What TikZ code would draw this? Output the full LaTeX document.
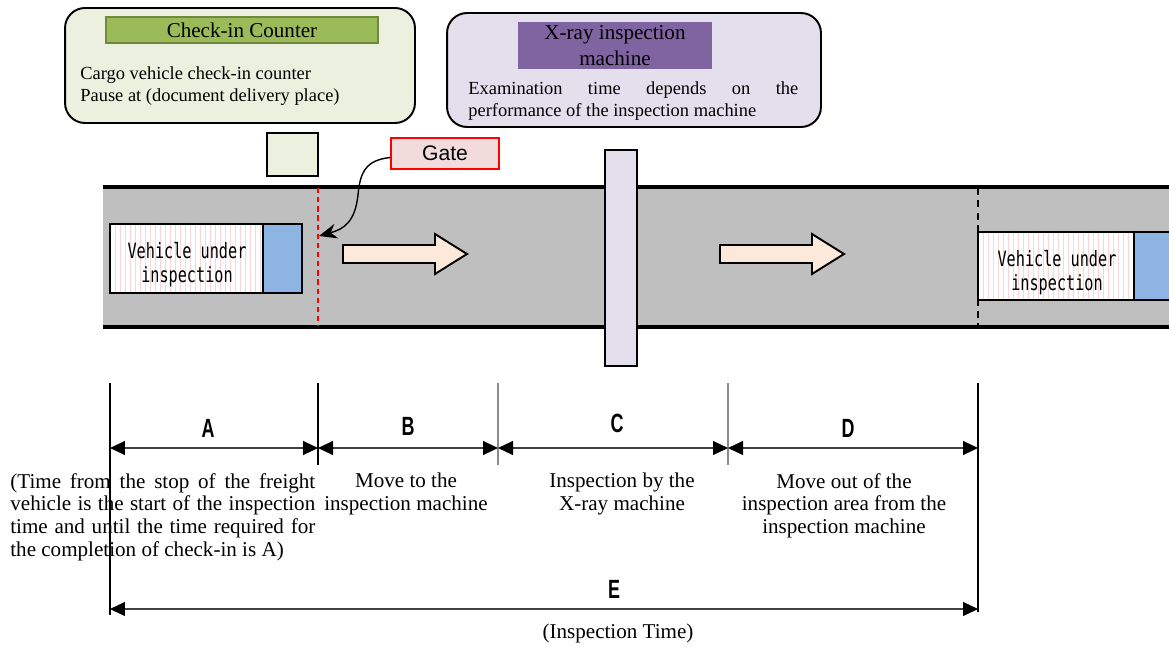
\documentclass[tikz,border=0pt]{standalone}
\usepackage{fontspec}
\setmainfont{Liberation Serif}
\newfontfamily\gatefont{Liberation Sans}
\newfontfamily\vehfont[FakeStretch=0.72]{DejaVu Sans Mono}
\newfontfamily\segfont[FakeStretch=0.68]{Liberation Sans}
\usetikzlibrary{arrows.meta}
\definecolor{ckfill}{HTML}{EBF1DE}
\definecolor{ckhead}{HTML}{9BBB59}
\definecolor{ckedge}{HTML}{71893F}
\definecolor{xrfill}{HTML}{E4DFEC}
\definecolor{xrhead}{HTML}{8064A2}
\definecolor{gatefill}{HTML}{F2DCDB}
\definecolor{roadgray}{HTML}{BFBFBF}
\definecolor{cabblue}{HTML}{8DB4E2}
\definecolor{movefill}{HTML}{FDE9D9}
\definecolor{stripepink}{HTML}{F7D6D6}
\definecolor{dimgray}{HTML}{404040}
\hyphenpenalty=10000
\tikzset{
  infobox/.style={draw=black, line width=1.1pt, rounded corners=0.4cm, inner sep=0pt},
  ckttl/.style={draw=ckedge, fill=ckhead, line width=0.8pt, minimum width=5.44cm, minimum height=0.52cm, inner sep=0pt, font=\fontsize{12}{14}\selectfont},
  xrttl/.style={fill=xrhead, minimum width=3.88cm, minimum height=0.94cm, inner sep=0pt, align=center, font=\fontsize{12}{15}\selectfont},
  boxtxt/.style={inner sep=0pt, anchor=north west, font=\fontsize{10.5}{13}\selectfont},
  booth/.style={draw=black, fill=ckfill, line width=0.8pt, minimum width=1.02cm, minimum height=0.86cm, inner sep=0pt},
  gatebox/.style={draw=red, fill=gatefill, line width=0.8pt, minimum width=2.16cm, minimum height=0.62cm, inner sep=0pt, font=\gatefont\fontsize{12}{14}\selectfont},
  gatearc/.style={-{Stealth[length=3.6mm,width=3mm]}, draw=black, line width=0.8pt},
  road/.style={fill=roadgray},
  roadedge/.style={draw=black, line width=1.8pt},
  reddash/.style={draw=red, line width=0.9pt, dash pattern=on 3pt off 2.2pt},
  blackdash/.style={draw=black, line width=0.8pt, dash pattern=on 4pt off 3pt},
  veh/.style={draw=black, line width=1.1pt, fill=white, inner sep=0pt,
    path picture={\foreach \k in {1,...,32}{\draw[stripepink, line width=0.35pt] ([xshift=\k*1mm]path picture bounding box.south west) -- ([xshift=\k*1mm]path picture bounding box.north west);}}},
  vehtxt/.style={inner sep=0pt, align=center, font=\vehfont\fontsize{12}{13.6}\selectfont},
  cab/.style={draw=black, line width=1.1pt, fill=cabblue, inner sep=0pt},
  machine/.style={draw=black, fill=xrfill, line width=0.8pt, minimum width=0.64cm, minimum height=4.32cm, inner sep=0pt},
  movearr/.style={draw=black, line width=1.1pt, fill=movefill},
  tick/.style={draw=black, line width=0.6pt},
  tickgray/.style={draw=black!45, line width=0.6pt},
  dimarr/.style={{Triangle[length=3mm,width=2.8mm,color=black]}-{Triangle[length=3mm,width=2.8mm,color=black]}, draw=dimgray, line width=0.6pt},
  seglbl/.style={inner sep=0pt, font=\segfont\bfseries\fontsize{15}{17}\selectfont},
  segtxt/.style={inner sep=0pt, anchor=north, align=center, font=\fontsize{12}{12.9}\selectfont},
}
\begin{document}
\begin{tikzpicture}[x=0.02cm,y=-0.02cm]
  \useasboundingbox (0,0) rectangle (1169,646);
  \clip (0,0) rectangle (1169,646);
  \node[infobox, fill=ckfill, minimum width=7cm, minimum height=2.3cm] (checkin) at (240,65.5) {};
  \node[ckttl] (checkinhdr) at (242,30) {Check-in Counter};
  \node[boxtxt, align=left] (checkinnote) at (80,66) {Cargo vehicle check-in counter\\Pause at (document delivery place)};
  \node[infobox, fill=xrfill, minimum width=7.48cm, minimum height=2.28cm] (xraybox) at (634,70) {};
  \node[xrttl] (xrayhdr) at (615,45.5) {X-ray inspection\\machine};
  \node[boxtxt, text width=6.6cm, align=justify] (xraynote) at (468,81) {Examination time depends on the\linebreak performance of the inspection machine};
  \fill[road] (103,187) rectangle (1169,327);
  \draw[roadedge] (103,187) -- (1169,187);
  \draw[roadedge] (103,327) -- (1169,327);
  \node[booth] (booth) at (292.5,154.5) {};
  \node[gatebox] (gate) at (445,153.5) {Gate};
  \draw[reddash] (318,188) -- (318,326);
  \draw[blackdash] (978,188) -- (978,326);
  \coordinate (gatetip) at (319,236);
  \draw[gatearc] ([yshift=-0.08cm]gate.west) .. controls (366,160) and (360,172) .. (358,195) .. controls (355,222) and (344,229) .. (gatetip);
  \node[veh, minimum width=3.06cm, minimum height=1.38cm] (veh1) at (186.5,258.5) {};
  \node[vehtxt] (veh1txt) at (187,265) {Vehicle under\\inspection};
  \node[cab, minimum width=0.78cm, minimum height=1.38cm] (cab1) at (282.5,258.5) {};
  \draw[movearr] (343,245) -- (435,245) -- (435,234) -- (467,254) -- (435,274) -- (435,263) -- (343,263) -- cycle;
  \node[machine] (xraymachine) at (621,258) {};
  \draw[movearr] (720,245) -- (812,245) -- (812,234) -- (844,254) -- (812,274) -- (812,263) -- (720,263) -- cycle;
  \node[veh, minimum width=3.12cm, minimum height=1.36cm] (veh2) at (1056,266) {};
  \node[vehtxt] (veh2txt) at (1057,273) {Vehicle under\\inspection};
  \node[cab, minimum width=0.92cm, minimum height=1.36cm] (cab2) at (1157,266) {};
  \draw[tick] (110,383) -- (110,615);
  \draw[tick] (318,383) -- (318,465);
  \draw[tickgray] (498,383) -- (498,465);
  \draw[tickgray] (728,383) -- (728,465);
  \draw[tick] (978,383) -- (978,612);
  \coordinate (tA) at (110,448);
  \coordinate (tB) at (318,448);
  \coordinate (tC) at (498,448);
  \coordinate (tD) at (728,448);
  \coordinate (tE) at (978,448);
  \coordinate (eL) at (110,609);
  \coordinate (eR) at (978,609);
  \draw[dimarr] (tA) -- (tB);
  \draw[dimarr] (tB) -- (tC);
  \draw[dimarr] (tC) -- (tD);
  \draw[dimarr] (tD) -- (tE);
  \draw[dimarr] (eL) -- (eR);
  \node[seglbl] (segA) at (208,428) {A};
  \node[seglbl] (segB) at (408,426) {B};
  \node[seglbl] (segC) at (617,423) {C};
  \node[seglbl] (segD) at (848,428) {D};
  \node[seglbl] (segE) at (614,589) {E};
  \node[segtxt, anchor=north west, text width=6.1cm, align=justify] (txtA) at (10,473) {(Time from the stop of the freight\linebreak vehicle is the start of the inspection\linebreak time and until the time required for\linebreak the completion of check-in is A)};
  \node[segtxt] (txtB) at (406,473) {Move to the\\inspection machine};
  \node[segtxt] (txtC) at (622,473) {Inspection by the\\X-ray machine};
  \node[segtxt] (txtD) at (844,473) {Move out of the\\inspection area from the\\inspection machine};
  \node[segtxt] (txtE) at (618,624) {(Inspection Time)};
\end{tikzpicture}
\end{document}
